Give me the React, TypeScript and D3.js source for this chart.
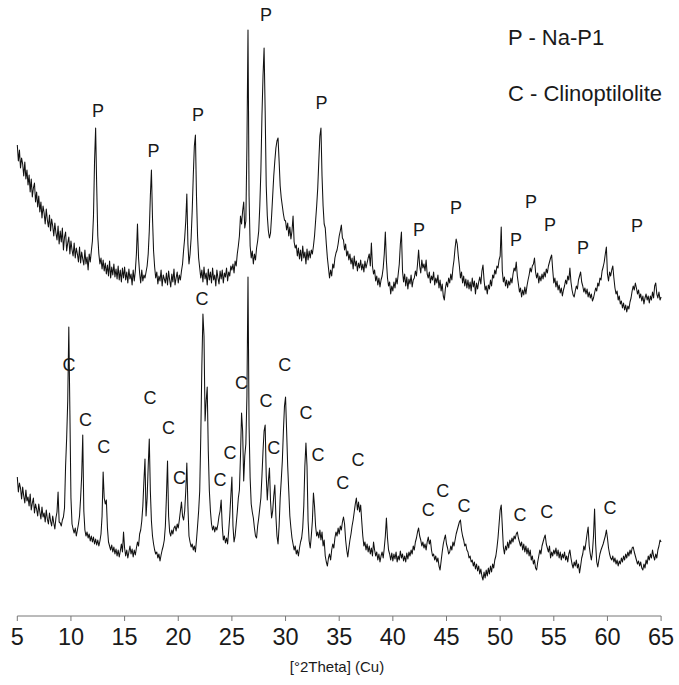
import React from "react";
import * as d3 from "d3";

// XRD scan: 2Theta from 5 to 65 deg, step 0.1 deg (601 points per pattern)
const scanStart = 5;
const scanStep = 0.1;

// Upper pattern (Na-P1 product), intensity in arbitrary units
const topCounts = [
  471, 455, 466, 448, 458, 452, 440, 454, 437, 446,
  431, 441, 424, 437, 419, 428, 433, 414, 424, 409,
  420, 404, 414, 398, 410, 403, 392, 407, 396, 389,
  401, 385, 397, 390, 380, 393, 383, 376, 390, 372,
  385, 374, 388, 366, 379, 384, 365, 373, 379, 362,
  375, 366, 360, 373, 358, 368, 362, 354, 369, 353,
  364, 357, 351, 366, 352, 359, 346, 362, 354, 365,
  375, 400, 455, 488, 430, 380, 362, 352, 358, 347,
  356, 345, 353, 342, 351, 340, 355, 338, 349, 341,
  352, 339, 347, 337, 350, 336, 346, 334, 348, 338,
  349, 336, 344, 333, 347, 337, 342, 331, 346, 335,
  345, 362, 392, 358, 343, 333, 346, 335, 341, 338,
  344, 350, 362, 385, 420, 446, 398, 365, 349, 338,
  344, 332, 340, 335, 346, 330, 341, 337, 333, 343,
  331, 345, 336, 329, 342, 334, 347, 331, 338, 344,
  333, 341, 336, 345, 352, 366, 378, 395, 422, 372,
  352, 362, 378, 405, 440, 470, 481, 420, 380, 358,
  348, 338, 346, 334, 349, 337, 343, 331, 347, 336,
  344, 333, 348, 336, 341, 330, 346, 338, 332, 345,
  337, 346, 333, 343, 339, 348, 335, 344, 340, 350,
  346, 352, 343, 355, 350, 362, 370, 380, 400, 392,
  405, 414, 388, 395, 470, 586, 420, 370, 358, 365,
  352, 362, 356, 368, 375, 385, 410, 445, 500, 540,
  568, 505, 430, 400, 385, 378, 383, 400, 420, 440,
  455, 468, 475, 478, 455, 430, 418, 410, 402, 396,
  395, 386, 393, 380, 389, 377, 385, 400, 374, 368,
  371, 360, 368, 357, 366, 355, 370, 358, 364, 352,
  367, 356, 365, 358, 366, 362, 370, 380, 395, 410,
  428, 455, 480, 488, 440, 410, 392, 388, 372, 358,
  348, 338, 346, 340, 352, 348, 358, 363, 366, 372,
  380, 385, 391, 378, 376, 366, 372, 360, 365, 356,
  362, 352, 358, 347, 360, 350, 355, 345, 353, 348,
  356, 346, 352, 344, 355, 348, 353, 358, 362, 350,
  373, 350, 342, 346, 335, 340, 331, 338, 329, 336,
  340, 348, 362, 384, 355, 338, 330, 334, 322, 330,
  325, 334, 328, 338, 332, 342, 352, 372, 384, 345,
  334, 342, 330, 339, 327, 337, 332, 341, 329, 336,
  338, 345, 340, 352, 366, 350, 343, 356, 348, 352,
  345, 356, 342, 338, 344, 333, 340, 336, 344, 331,
  338, 333, 341, 328, 336, 325, 332, 320, 316, 328,
  334, 329, 338, 333, 342, 336, 348, 356, 368, 377,
  372, 360, 350, 338, 344, 333, 340, 330, 337, 328,
  336, 327, 334, 325, 338, 329, 335, 322, 333, 327,
  334, 339, 332, 345, 351, 336, 326, 330, 322, 331,
  327, 336, 330, 341, 338, 346, 342, 350, 348, 356,
  360, 389, 345, 334, 339, 330, 336, 328, 335, 331,
  338, 333, 342, 348, 345, 354, 340, 332, 324, 328,
  319, 326, 321, 329, 322, 330, 336, 341, 348, 344,
  350, 352, 358, 344, 338, 343, 333, 340, 335, 342,
  337, 344, 339, 347, 343, 350, 354, 358, 361, 346,
  333, 338, 329, 335, 326, 331, 323, 328, 320, 326,
  330, 336, 332, 340, 336, 348, 334, 326, 321, 319,
  325, 330, 327, 336, 340, 344, 334, 330, 324, 328,
  322, 327, 319, 324, 318, 322, 315, 318, 323, 328,
  325, 333, 330, 338, 336, 345, 349, 354, 362, 369,
  342, 335, 344, 340, 346, 350, 338, 328, 322, 325,
  316, 320, 312, 315, 308, 313, 306, 311, 304, 310,
  307, 314, 318, 325, 330, 326, 333, 328, 322, 326,
  318, 322, 315, 320, 312, 318, 322, 316, 320, 313,
  320, 316, 324, 318, 330, 333, 322, 318, 324, 316,
  319,
];

// Lower pattern (natural clinoptilolite), intensity in arbitrary units
const bottomCounts = [
  139, 124, 133, 128, 117, 129, 120, 113, 126, 115,
  119, 110, 122, 106, 113, 118, 103, 112, 107, 100,
  112, 104, 97, 109, 99, 103, 94, 106, 97, 92,
  103, 95, 90, 100, 93, 87, 98, 104, 124, 94,
  93, 90, 96, 99, 108, 150, 178, 215, 289, 205,
  118, 92, 87, 83, 88, 80, 86, 92, 100, 118,
  140, 181, 105, 86, 80, 84, 78, 82, 75, 80,
  74, 79, 72, 77, 71, 76, 70, 75, 82, 100,
  144, 118, 112, 116, 88, 74, 70, 66, 71, 64,
  69, 62, 67, 60, 66, 59, 65, 72, 64, 84,
  68, 60, 66, 58, 64, 70, 62, 67, 59, 66,
  61, 68, 74, 70, 82, 86, 95, 110, 135, 157,
  100, 118, 150, 177, 125, 95, 80, 72, 66, 62,
  64, 58, 62, 55, 61, 66, 70, 76, 90, 120,
  155, 100, 84, 80, 86, 82, 88, 90, 85, 92,
  88, 96, 105, 114, 100, 96, 105, 125, 153, 110,
  80, 74, 69, 72, 66, 70, 64, 76, 90, 105,
  125, 180, 250, 302, 280, 195, 215, 229, 165, 125,
  105, 92, 86, 90, 84, 89, 86, 92, 100, 105,
  116, 90, 76, 80, 73, 78, 72, 85, 100, 120,
  139, 90, 74, 80, 92, 104, 118, 126, 160, 203,
  185, 135, 160, 172, 220, 339, 190, 138, 112, 104,
  98, 88, 80, 78, 90, 98, 108, 118, 140, 165,
  185, 191, 140, 116, 135, 148, 115, 98, 105, 120,
  131, 100, 80, 72, 90, 118, 136, 155, 185, 210,
  219, 185, 150, 125, 100, 88, 78, 72, 66, 70,
  62, 66, 60, 68, 74, 78, 88, 110, 150, 173,
  150, 95, 75, 68, 80, 95, 123, 110, 90, 80,
  84, 78, 86, 76, 84, 70, 76, 60, 54, 50,
  58, 62, 56, 66, 72, 68, 78, 84, 80, 88,
  82, 90, 86, 94, 99, 92, 76, 66, 59, 68,
  76, 82, 90, 96, 104, 112, 118, 106, 114, 104,
  111, 95, 80, 70, 74, 66, 72, 64, 70, 62,
  68, 60, 74, 66, 60, 64, 56, 62, 54, 60,
  64, 58, 68, 80, 98, 78, 66, 62, 56, 63,
  55, 62, 57, 64, 54, 60, 56, 65, 58, 62,
  55, 60, 54, 63, 57, 64, 60, 66, 62, 70,
  66, 74, 78, 84, 88, 80, 76, 70, 74, 68,
  72, 66, 74, 79, 72, 76, 66, 60, 62, 56,
  60, 54, 58, 50, 46, 55, 64, 72, 77, 81,
  72, 68, 62, 64, 70, 66, 74, 70, 76, 82,
  86, 90, 94, 96, 86, 80, 76, 70, 72, 66,
  64, 58, 60, 54, 56, 50, 54, 47, 52, 45,
  50, 42, 47, 40, 36, 44, 38, 46, 40, 48,
  42, 50, 44, 52, 48, 56, 60, 68, 78, 92,
  106, 111, 90, 69, 62, 70, 66, 74, 68, 76,
  72, 78, 74, 80, 77, 82, 84, 78, 74, 70,
  74, 66, 72, 64, 70, 62, 68, 60, 66, 56,
  60, 52, 56, 48, 46, 54, 60, 66, 62, 70,
  74, 78, 81, 72, 68, 64, 70, 58, 64, 60,
  66, 62, 68, 60, 66, 58, 64, 56, 62, 58,
  64, 56, 60, 54, 62, 66, 58, 52, 48, 54,
  50, 56, 48, 52, 43, 50, 58, 62, 70, 66,
  74, 82, 89, 70, 62, 56, 64, 80, 107, 72,
  54, 49, 56, 62, 66, 69, 72, 76, 80, 86,
  78, 68, 62, 58, 56, 60, 54, 58, 52, 56,
  50, 55, 52, 58, 54, 60, 56, 62, 58, 64,
  60, 66, 62, 68, 69, 64, 60, 56, 52, 55,
  50, 54, 48, 46, 52, 48, 56, 52, 60, 56,
  62, 58, 66, 60, 56, 62, 58, 66, 70, 76,
  74,
];

// Phase markers: 2Theta position and label height (same units as counts)
const pLabelTheta = [12.52, 17.69, 21.84, 28.17, 33.35, 42.44, 45.89, 51.48, 52.87, 54.64, 57.72, 62.75];
const pLabelLevel = [505, 465, 501, 601, 513, 386, 408, 376, 414, 391, 368, 390];

const cLabelTheta = [9.82, 11.35, 13.05, 17.37, 19.09, 20.11, 22.21, 23.89, 24.82, 25.89, 28.18, 28.9, 29.92, 31.91, 33.03, 35.33, 36.76, 43.29, 44.66, 46.64, 51.86, 54.34, 60.24];
const cLabelLevel = [251, 196, 169, 218, 188, 138, 317, 136, 163, 233, 215, 168, 251, 203, 161, 133, 156, 106, 125, 110, 101, 104, 108];

const xTicks = [5, 10, 15, 20, 25, 30, 35, 40, 45, 50, 55, 60, 65];
const legendLines = ["P - Na-P1", "C - Clinoptilolite"];
const xAxisTitle = "[°2Theta] (Cu)";

const W = 679;
const H = 685;
const FONT = "'Liberation Sans', Arial, Helvetica, sans-serif";

export default function App() {
  const x = d3.scaleLinear().domain([5, 65]).range([17.3, 661.1]);
  const y = d3.scaleLinear().domain([0, 600]).range([616, 16]);

  const line = d3
    .line<number>()
    .x((_, i) => x(scanStart + i * scanStep))
    .y((v) => y(v));

  const axisY = y(0);

  return (
    <svg
      width={W}
      height={H}
      viewBox={`0 0 ${W} ${H}`}
      style={{ position: "absolute", left: 0, top: 0, background: "#fff" }}
    >
      <rect x={0} y={0} width={W} height={H} fill="#fff" />
      <path d={line(topCounts) || ""} fill="none" stroke="#111" strokeWidth={1.05} strokeLinejoin="round" />
      <path d={line(bottomCounts) || ""} fill="none" stroke="#111" strokeWidth={1.05} strokeLinejoin="round" />

      {pLabelTheta.map((t, i) => (
        <text
          key={"p" + i}
          x={x(t)}
          y={y(pLabelLevel[i])}
          dy="0.36em"
          textAnchor="middle"
          fontFamily={FONT}
          fontSize={18}
          fill="#1a1a1a"
        >
          P
        </text>
      ))}
      {cLabelTheta.map((t, i) => (
        <text
          key={"c" + i}
          x={x(t)}
          y={y(cLabelLevel[i])}
          dy="0.36em"
          textAnchor="middle"
          fontFamily={FONT}
          fontSize={18}
          fill="#1a1a1a"
        >
          C
        </text>
      ))}

      <text x={508} y={45} fontFamily={FONT} fontSize={22} fill="#1a1a1a">
        {legendLines[0]}
      </text>
      <text x={508} y={101} fontFamily={FONT} fontSize={22} fill="#1a1a1a">
        {legendLines[1]}
      </text>

      <line x1={x(5)} x2={x(65)} y1={axisY} y2={axisY} stroke="#777" strokeWidth={1} />
      {xTicks.map((t) => (
        <g key={t}>
          <line x1={x(t)} x2={x(t)} y1={axisY} y2={axisY + 5} stroke="#777" strokeWidth={1} />
          <text
            x={x(t)}
            y={645}
            textAnchor="middle"
            fontFamily={FONT}
            fontSize={23.5}
            fill="#1a1a1a"
          >
            {t}
          </text>
        </g>
      ))}
      <text x={337} y={672} textAnchor="middle" fontFamily={FONT} fontSize={15} fill="#1a1a1a">
        {xAxisTitle}
      </text>
    </svg>
  );
}
